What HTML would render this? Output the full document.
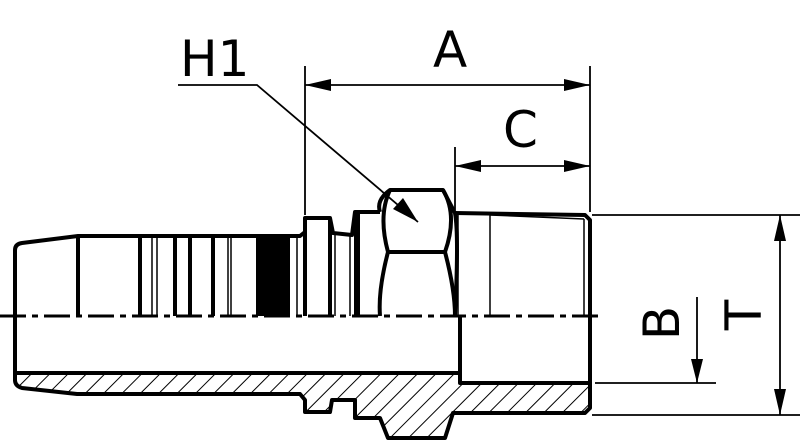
<!DOCTYPE html>
<html><head><meta charset="utf-8"><style>
html,body{margin:0;padding:0;background:#fff;}
svg{display:block;}
text{font-family:"DejaVu Sans","Liberation Sans",sans-serif;fill:#000;}
</style></head><body>
<svg width="800" height="442" viewBox="0 0 800 442" xmlns="http://www.w3.org/2000/svg">
<defs>
<pattern id="h" patternUnits="userSpaceOnUse" width="13" height="13" patternTransform="rotate(45)">
<line x1="0" y1="0" x2="0" y2="13" stroke="#000" stroke-width="2"/>
</pattern>
</defs>
<!-- hatched section -->
<path d="M15,373 L460,373 L460,383 L590,383 L590,408 L585,413 L453,413 L445,438 L388,438 L380,418 L355,418 L355,400 L332,400 L330,412 L305,412 L305,400 L300,394 L77,394 L22,388 Q15,386 15,380 Z" fill="url(#h)" stroke="#000" stroke-width="4" stroke-linejoin="round"/>
<!-- outer top left body -->
<g fill="none" stroke="#000" stroke-width="4" stroke-linejoin="round">
<path d="M15,380 L15,250 Q15,244 22,243 L78,236 L300,236 L305,232 L305,218 L330,218 L333,233 L352,235 L355,212 L380,212"/>
<line x1="78" y1="236" x2="78" y2="316"/>
<line x1="140" y1="236" x2="140" y2="316"/>
<line x1="175" y1="236" x2="175" y2="316"/>
<line x1="190" y1="236" x2="190" y2="316"/>
<line x1="213" y1="236" x2="213" y2="316"/>
<line x1="305" y1="232" x2="305" y2="316"/>
<line x1="330" y1="218" x2="330" y2="316"/>
<line x1="357" y1="212" x2="357" y2="316" stroke-width="6"/>
<!-- hex -->
<path d="M380,212 Q376,200 390,190 L443,190 L455,213 Q459,235 455,316"/>
<path d="M390,190 Q378,215 388,252 Q378,290 380,316"/>
<path d="M443,190 Q458,215 445,252 Q455,290 455,316"/>
<line x1="388" y1="252" x2="445" y2="252"/>
<!-- thread body -->
<path d="M455,213 L585,215 L590,220 L590,408"/>
<line x1="460" y1="316" x2="460" y2="373"/>
<line x1="590" y1="320" x2="590" y2="383"/>
</g>
<g stroke="#000" stroke-width="1.5" fill="none">
<line x1="152" y1="236" x2="152" y2="316"/><line x1="157" y1="236" x2="157" y2="316"/>
<line x1="228" y1="236" x2="228" y2="316"/><line x1="231" y1="236" x2="231" y2="316"/>
<line x1="297" y1="236" x2="297" y2="316"/>
<line x1="335" y1="235" x2="335" y2="316"/>
<line x1="350" y1="235" x2="350" y2="316"/>
<line x1="458" y1="213" x2="458" y2="316"/>
<line x1="490" y1="215" x2="490" y2="316"/>
<line x1="490" y1="215" x2="584" y2="219"/>
<line x1="584" y1="219" x2="584" y2="316"/>
</g>
<!-- thread band -->
<rect x="256" y="236" width="34" height="80" fill="#000"/>
<!-- centerline -->
<line x1="0" y1="316" x2="600" y2="316" stroke="#000" stroke-width="3" stroke-dasharray="26,6,6,6"/>
<!-- dimensions -->
<g stroke="#000" stroke-width="1.8" fill="none">
<line x1="305" y1="66" x2="305" y2="215"/>
<line x1="590" y1="66" x2="590" y2="212"/>
<line x1="455" y1="147" x2="455" y2="210"/>
<line x1="305" y1="85" x2="590" y2="85"/>
<line x1="455" y1="166" x2="590" y2="166"/>
<line x1="592" y1="215" x2="800" y2="215"/>
<line x1="592" y1="415" x2="800" y2="415"/>
<line x1="595" y1="383" x2="716" y2="383"/>
<line x1="780" y1="215" x2="780" y2="415"/>
<line x1="697" y1="297" x2="697" y2="383"/>
<polyline points="178,85 257,85 418,222"/>
</g>
<g fill="#000">
<polygon points="305,85 331,79 331,91"/>
<polygon points="590,85 564,79 564,91"/>
<polygon points="455,166 481,160 481,172"/>
<polygon points="590,166 564,160 564,172"/>
<polygon points="780,215 774,241 786,241"/>
<polygon points="780,415 774,389 786,389"/>
<polygon points="697,383 691,359 703,359"/>
<polygon points="418,222 393,209 403,198"/>
</g>
<text x="180" y="76" font-size="50">H1</text>
<text x="433" y="67" font-size="50">A</text>
<text x="503" y="147" font-size="50">C</text>
<text transform="translate(679,323) rotate(-90)" font-size="50" text-anchor="middle">B</text>
<text transform="translate(761,315) rotate(-90)" font-size="50" text-anchor="middle">T</text>
</svg>
</body></html>
